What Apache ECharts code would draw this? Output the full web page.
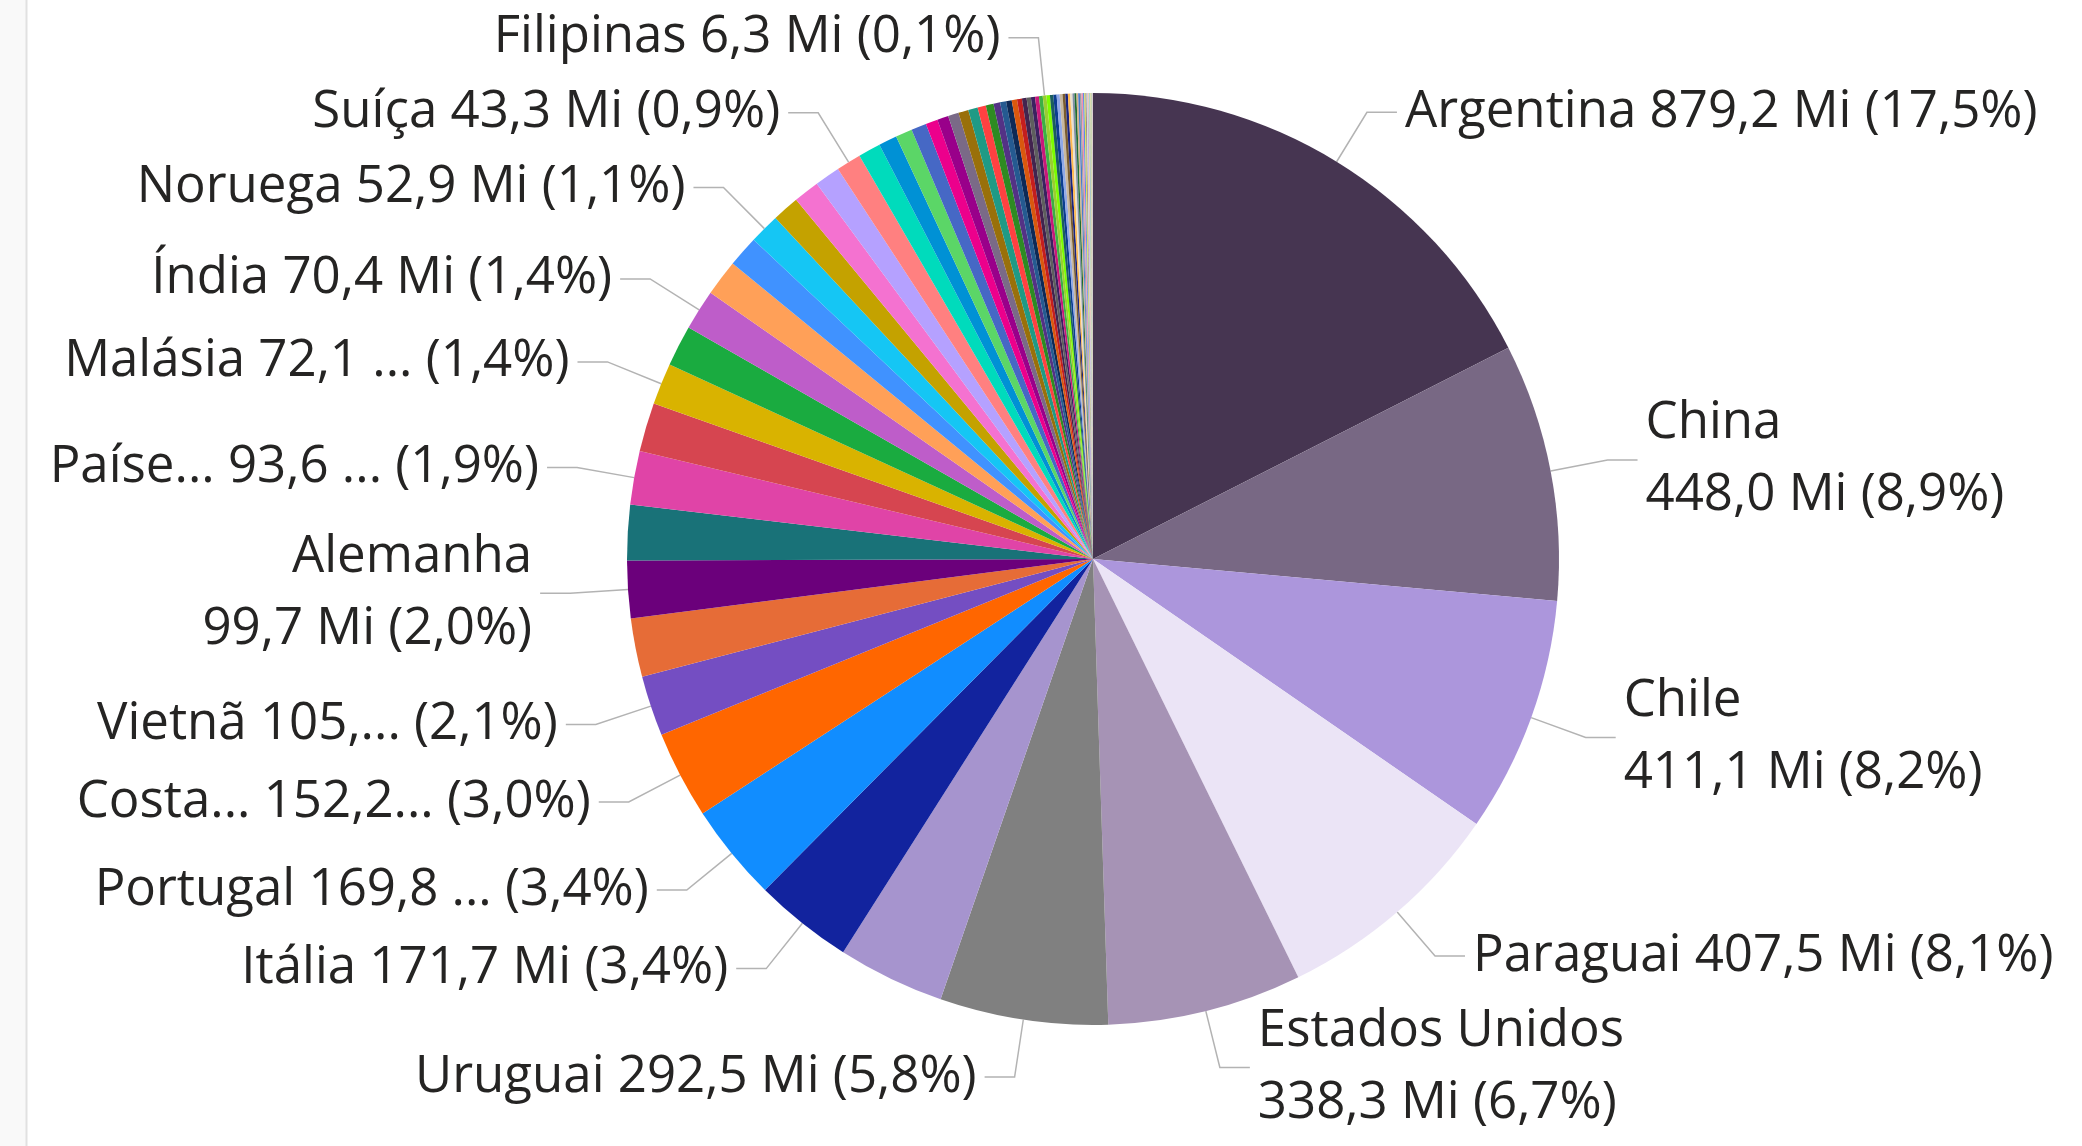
<!DOCTYPE html>
<html>
<head>
<meta charset="utf-8">
<script src="https://cdn.jsdelivr.net/npm/echarts@6/dist/echarts.min.js"></script>
<style>
  html, body { margin: 0; padding: 0; background: #fff; }
  #chart { width: 2082px; height: 1146px; }
</style>
</head>
<body>
<div id="chart"></div>
<script>
// paises em ordem decrescente (sentido horario a partir do topo)
const paises = [
  "Argentina", "China", "Chile", "Paraguai", "Estados Unidos", "Uruguai",
  "Espanha", "Itália", "Portugal", "Costa Rica", "Vietnã", "França", "Alemanha",
  "Japão", "Países Baixos", "México", "Malásia", "Canadá", "Índia", "Colômbia",
  "Reino Unido", "Noruega", "Bélgica", "Peru", "Coreia do Sul", "Suíça",
  "Indonésia", "Tailândia", "Austrália", "Bolívia", "Equador", "Singapura",
  "Turquia", "Rússia", "Emirados Árabes", "Suécia", "Dinamarca", "Polônia",
  "Áustria", "Irlanda", "Panamá", "Israel", "Arábia Saudita", "África do Sul",
  "Venezuela", "Finlândia", "Egito", "Filipinas",
  "Grécia", "Hungria", "República Tcheca", "Romênia", "Ucrânia", "Guatemala",
  "Honduras", "El Salvador", "Nicarágua", "Cuba", "República Dominicana",
  "Porto Rico", "Jamaica", "Bangladesh", "Paquistão", "Nova Zelândia", "Taiwan",
  "Hong Kong", "Marrocos", "Angola", "Nigéria", "Argélia", "Tunísia", "Quênia",
  "Gana", "Moçambique", "Senegal", "Croácia", "Eslovênia", "Bulgária", "Sérvia"
];

// valores em milhoes
const valores = [
  879.2, 448.0, 411.1, 407.5, 338.3, 292.5,
  186, 171.7, 169.8, 152.2, 105.0, 102, 99.7,
  96, 93.6, 85, 72.1, 71.2, 70.4, 63,
  54.5, 52.9, 47, 45, 44.2, 43.3,
  39, 32, 29, 26.5, 21, 19.5,
  18.5, 17.5, 16.5, 14.5, 13.5, 11.5,
  10.5, 9.8, 9.2, 8.6, 8.0, 7.5,
  7.1, 6.8, 6.5, 6.3,
  6.1, 5.9, 5.6, 5.3, 5.0, 4.7,
  4.4, 4.1, 3.8, 3.5, 3.3, 3.1,
  2.9, 2.7, 2.5, 2.3, 2.1, 1.9,
  1.7, 1.5, 1.3, 1.1, 1.0, 0.9,
  0.8, 0.7, 0.6, 0.5, 0.4, 0.3, 0.2
];

const cores = [
  "#463551", "#786884", "#AC96DC", "#EBE4F6", "#A693B5", "#808080",
  "#A694CE", "#12239E", "#118DFF", "#FF6600", "#744EC2", "#E66C37", "#6B007B",
  "#197278", "#E044A7", "#D64550", "#D9B300", "#1AAB40", "#BE5DC9", "#FFA058",
  "#4092FF", "#15C6F4", "#C4A200", "#F472D0", "#B5A1FF", "#FF8080",
  "#00DBBC", "#0091D5", "#5BD667", "#4668C5", "#EC008C", "#99008A",
  "#7A6A87", "#99700A", "#1F9A85", "#FF4141", "#2E8B22", "#533285",
  "#255A91", "#0E2A56", "#D9580E", "#C41E1E", "#42244F", "#5E5E5E",
  "#3B2160", "#C8187A", "#3CB043", "#9ACD32",
  "#7CFC00", "#1B5E5E", "#0B3D91", "#8FA8E8", "#C8B8A0", "#7A5C2E",
  "#1A237E", "#FFB84D", "#E8E0D0", "#7F8FA6", "#1E6B2E", "#D2B48C",
  "#4A7BD0", "#9E9E9E", "#F48FB1", "#5C8DE6", "#D4E157", "#A1887F",
  "#CFD8DC", "#B39DDB", "#FFCC80", "#80CBC4", "#90A4AE", "#F0E68C",
  "#BCAAA4", "#AED581", "#B0BEC5", "#CE93D8", "#FFE082", "#9FA8DA", "#B8B8B8"
];

// rotulos visiveis (texto como aparece, ja truncado)
const paisesRotulados = [
  "Argentina", "China", "Chile", "Paraguai", "Estados Unidos", "Uruguai",
  "Itália", "Portugal", "Costa Rica", "Vietnã", "Alemanha", "Países Baixos",
  "Malásia", "Índia", "Noruega", "Suíça", "Filipinas"
];
const textosRotulos = [
  "Argentina 879,2 Mi (17,5%)",
  "China\n448,0 Mi (8,9%)",
  "Chile\n411,1 Mi (8,2%)",
  "Paraguai 407,5 Mi (8,1%)",
  "Estados Unidos\n338,3 Mi (6,7%)",
  "Uruguai 292,5 Mi (5,8%)",
  "Itália 171,7 Mi (3,4%)",
  "Portugal 169,8 ... (3,4%)",
  "Costa... 152,2... (3,0%)",
  "Vietnã 105,... (2,1%)",
  "Alemanha\n99,7 Mi (2,0%)",
  "Paíse... 93,6 ... (1,9%)",
  "Malásia 72,1 ... (1,4%)",
  "Índia 70,4 Mi (1,4%)",
  "Noruega 52,9 Mi (1,1%)",
  "Suíça 43,3 Mi (0,9%)",
  "Filipinas 6,3 Mi (0,1%)"
];

const dados = paises.map((nome, i) => {
  const k = paisesRotulados.indexOf(nome)
  const item = {name: nome, value: valores[i], itemStyle: {color: cores[i % cores.length]}}
  if (k < 0) {
    item.label = {show: false}
    item.labelLine = {show: false}
  } else {
    item.label = {formatter: textosRotulos[k]}
  }
  return item
})

const chart = echarts.init(document.getElementById("chart"), null, {renderer: "canvas"})

chart.setOption({
  animation: false,
  backgroundColor: "#ffffff",
  graphic: [
    {type: "rect", shape: {x: 0, y: 0, width: 26, height: 1146}, style: {fill: "#f9f9f9"}, silent: true},
    {type: "line", shape: {x1: 26.5, y1: 0, x2: 26.5, y2: 1146}, style: {stroke: "#e1e1e1", lineWidth: 2}, silent: true}
  ],
  series: [
    {
      type: "pie",
      center: [1093, 559],
      radius: 466,
      startAngle: 90,
      clockwise: true,
      avoidLabelOverlap: true,
      emphasis: {disabled: true},
      itemStyle: {borderWidth: 0},
      label: {
        show: true,
        position: "outside",
        fontFamily: "Open Sans",
        fontSize: 51,
        lineHeight: 72,
        color: "#252423",
        distanceToLabelLine: 8
      },
      labelLine: {
        show: true,
        length: 58,
        length2: 30,
        smooth: false,
        lineStyle: {color: "#b3b3b3", width: 1.5}
      },
      data: dados
    }
  ]
})
</script>
</body>
</html>
